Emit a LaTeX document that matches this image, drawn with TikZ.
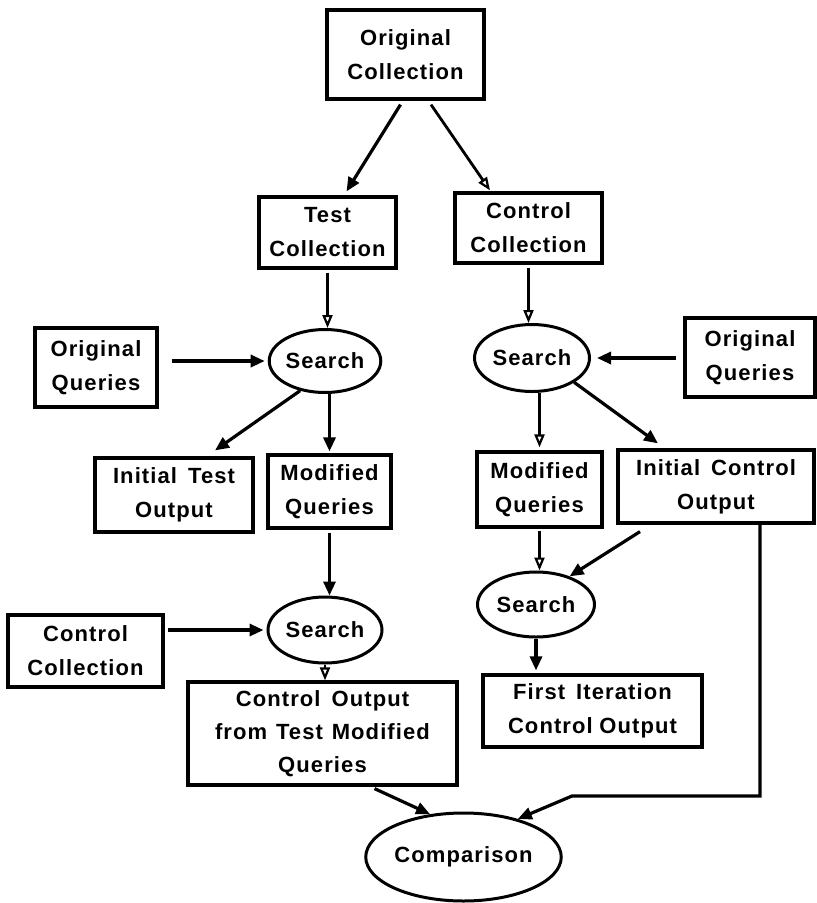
\documentclass[tikz,border=0pt]{standalone}
\usepackage{fontspec}
\setmainfont{Liberation Sans}[LetterSpace=5]
\usetikzlibrary{shapes.geometric,arrows.meta,calc}
\begin{document}
\begin{tikzpicture}[x=1pt,y=-1pt,
  every node/.style={font=\fontsize{22}{34}\selectfont\bfseries, align=center, inner sep=0pt},
  box/.style={draw, line width=3.2pt, rectangle},
  oval/.style={draw, line width=3pt, ellipse},
  fa/.style={line width=3.2pt, -{Triangle[length=14pt,width=12pt]}},
  oa/.style={line width=2.8pt, -{Triangle[open,length=13pt,width=10pt,line width=2.2pt]}}]
\useasboundingbox (0,0) rectangle (817,903);
\node[box, minimum width=157pt, minimum height=89pt] (orig) at (405.5,54.5) {Original\\Collection};
\node[box, minimum width=137pt, minimum height=71pt] (test) at (327.5,232.5) {Test\\Collection};
\node[box, minimum width=147pt, minimum height=70pt] (ctrl) at (528.5,228) {Control\\Collection};
\node[oval, minimum width=106pt, minimum height=63pt] (s1) at (325,361) {Search};
\node[box, minimum width=122pt, minimum height=79pt] (oq1) at (96,367.5) {Original\\Queries};
\node[box, minimum width=158pt, minimum height=74pt] (ito) at (174,495) {Initial\hspace{0.5em}Test\\Output};
\node[box, minimum width=123pt, minimum height=73pt] (mq1) at (329.5,491.5) {Modified\\Queries};
\node[oval, minimum width=115pt, minimum height=67pt] (s2) at (532,358) {Search};
\node[box, minimum width=130pt, minimum height=79pt] (oq2) at (750,357.5) {Original\\Queries};
\node[box, minimum width=125pt, minimum height=75pt] (mq2) at (539.5,489.5) {Modified\\Queries};
\node[box, minimum width=196pt, minimum height=73pt] (ico) at (716,486.5) {Initial\hspace{0.5em}Control\\Output};
\node[oval, minimum width=114pt, minimum height=66pt] (s3) at (325,630) {Search};
\node[box, minimum width=155pt, minimum height=72pt] (cc) at (85.5,651) {Control\\Collection};
\node[box, minimum width=269pt, minimum height=103pt, font=\fontsize{22}{33}\selectfont\bfseries] (cotmq) at (322.5,733.5) {Control\hspace{0.5em}Output\\from\hspace{0.4em}Test\hspace{0.4em}Modified\\Queries};
\node[oval, minimum width=117pt, minimum height=65pt] (s4) at (536,604.5) {Search};
\node[box, minimum width=219pt, minimum height=72pt] (fico) at (592.5,711) {First\hspace{0.5em}Iteration\\Control\hspace{0.3em}Output};
\node[oval, minimum width=157pt, minimum height=88pt] (cmp) at (463.5,857) {Comparison};
% connectors
\draw[fa] ([xshift=-5pt,yshift=-4pt]orig.south) -- ([xshift=19pt,yshift=4pt]test.north);
\draw[oa] ([xshift=25.5pt,yshift=-4pt]orig.south) -- ([xshift=-38.5pt,yshift=1pt]ctrl.north);
\draw[oa] ([yshift=-3pt]test.south) -- (test.south |- s1.north);
\draw[fa, shorten <=13pt, shorten >=3pt] (s1.west -| oq1.east) -- (s1.west);
\draw[fa] (s1.-130) -- ([xshift=41pt,yshift=6pt]ito.north);
\draw[fa] (mq1.north |- s1.south) -- ([yshift=2pt]mq1.north);
\draw[fa] ([yshift=-3pt]mq1.south) -- (mq1.south |- s3.north);
\draw[fa, shorten <=3pt, shorten >=3pt] (s3.west -| cc.east) -- (s3.west);
\draw[oa] (s3.south) -- (s3.south |- cotmq.north);
\draw[fa] ([xshift=52pt,yshift=-2pt]cotmq.south) -- (cmp.128);
\draw[oa] ([yshift=-3pt]ctrl.south) -- (ctrl.south |- s2.north);
\draw[fa, shorten <=7pt, shorten >=6pt] (s2.east -| oq2.west) -- (s2.east);
\draw[oa] (mq2.north |- s2.south) -- ([yshift=3pt]mq2.north);
\draw[fa] (s2.-30) -- ([xshift=-58pt,yshift=5pt]ico.north);
\draw[oa] ([yshift=-2pt]mq2.south) -- (mq2.south |- s4.north);
\draw[fa] ([xshift=-76pt,yshift=-7pt]ico.south) -- (s4.40);
\draw[fa] (s4.south) -- ([yshift=3pt]s4.south |- fico.north);
\coordinate (k1) at (760,796);
\coordinate (k2) at (572,796);
\draw[fa, line join=miter] ([xshift=44pt]ico.south) -- (k1) -- (k2) -- (cmp.35);
\end{tikzpicture}
\end{document}
